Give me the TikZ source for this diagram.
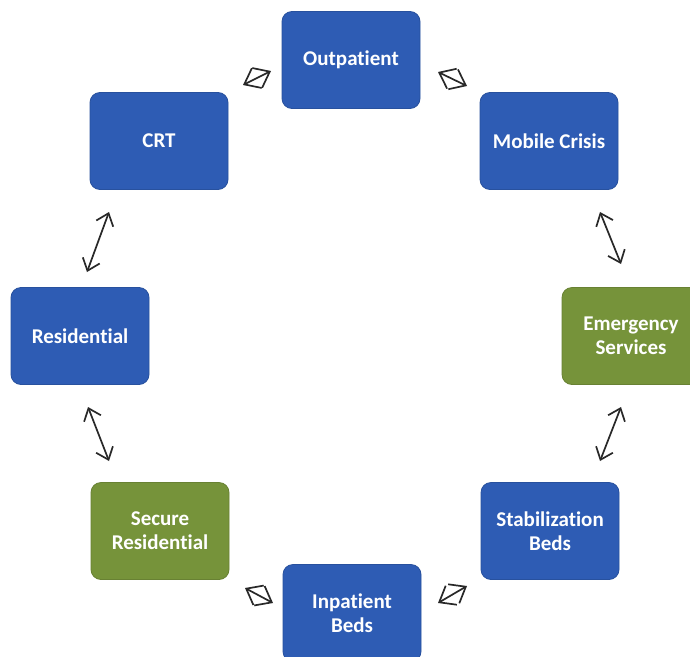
\documentclass[tikz,border=0pt]{standalone}
\usepackage{fontspec}
\setmainfont{Carlito}[Ligatures={NoCommon}]
\usetikzlibrary{arrows.meta}
\definecolor{boxblue}{RGB}{46,92,180}
\definecolor{boxgreen}{RGB}{118,147,58}
\definecolor{arrgray}{RGB}{40,40,40}
\begin{document}
\begin{tikzpicture}[x=1pt,y=-1pt,
  box/.style={rounded corners=10pt, minimum width=138pt, minimum height=97pt,
    text=white, font=\bfseries\fontsize{21}{24}\selectfont, align=center,
    inner sep=0pt, draw=#1!88!black, fill=#1, line width=0.8pt},
  longlink/.style={draw=arrgray, line width=1.7pt,
    {Straight Barb[length=11pt,width=18pt]}-{Straight Barb[length=11pt,width=18pt]}},
  shortlink/.style={draw=arrgray, line width=1.7pt,
    {Straight Barb[length=14pt,width=22pt]}-{Straight Barb[length=14pt,width=22pt]}}]
\clip (0,0) rectangle (690,656);
\fill[white] (0,0) rectangle (690,656);
\node[box=boxblue] (out) at (351,60) {Outpatient};
\node[box=boxblue] (crt) at (159,141) {CRT};
\node[box=boxblue] (mob) at (549,141) {Mobile Crisis};
\node[box=boxblue] (res) at (80,336) {Residential};
\node[box=boxgreen] (emg) at (631,336) {Emergency\\Services};
\node[box=boxgreen] (sec) at (160,531) {Secure\\Residential};
\node[box=boxblue] (stab) at (550,531) {Stabilization\\Beds};
\node[box=boxblue] (inp) at (352,613) {Inpatient\\Beds};
% arrow end points
\coordinate (a1s) at (243,85);  \coordinate (a1e) at (271,71);
\coordinate (a2s) at (438,72);  \coordinate (a2e) at (467,86);
\coordinate (a3s) at (245,588); \coordinate (a3e) at (273,603);
\coordinate (a4s) at (438,603); \coordinate (a4e) at (467,586);
\coordinate (l1s) at (109,212); \coordinate (l1e) at (87,272);
\coordinate (l2s) at (600,212); \coordinate (l2e) at (621,264);
\coordinate (l3s) at (88,407);  \coordinate (l3e) at (109,461);
\coordinate (l4s) at (621,407); \coordinate (l4e) at (600,461);
\draw[shortlink] (a1s) -- (a1e);
\draw[shortlink] (a2s) -- (a2e);
\draw[shortlink] (a3s) -- (a3e);
\draw[shortlink] (a4s) -- (a4e);
\draw[longlink] (l1s) -- (l1e);
\draw[longlink] (l2s) -- (l2e);
\draw[longlink] (l3s) -- (l3e);
\draw[longlink] (l4s) -- (l4e);
\end{tikzpicture}
\end{document}
